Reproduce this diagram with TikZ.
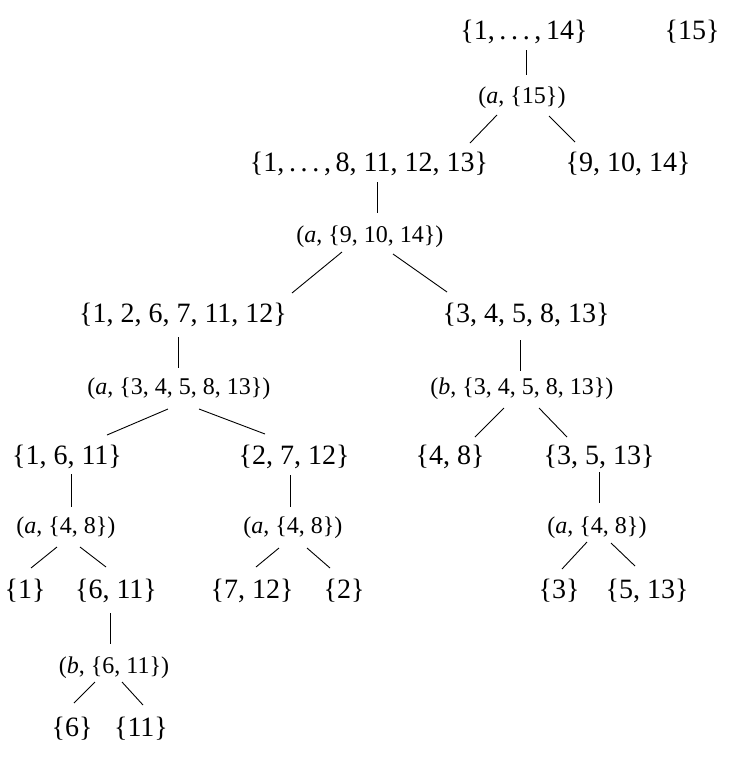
\documentclass[tikz,border=0pt]{standalone}
\usepackage{fontspec}
\setmainfont{Liberation Serif}
\usetikzlibrary{calc}

\begin{document}
\begin{tikzpicture}[
      x=1pt,y=-1pt,
      set/.style={font=\fontsize{28}{30}\selectfont,inner sep=0pt},
      cut/.style={font=\fontsize{24}{27}\selectfont,inner sep=0pt},
      ln/.style={line width=0.9pt,black}
    ]
  \useasboundingbox (0,0) rectangle (734,761);
  % sets and cuts
  \node[set] (s0) at (524,32) {\{1,\,.\,.\,.\,,\,14\}};
  \node[set] (s15) at (692,32) {\{15\}};
  \node[cut] (c0) at (522,98) {(\textit{a}, \{15\})};
  \node[set] (s1) at (369,164) {\{1,\,.\,.\,.\,,\,8, 11, 12, 13\}};
  \node[set] (s2) at (628,164) {\{9, 10, 14\}};
  \node[cut] (c1) at (370,237) {(\textit{a}, \{9, 10, 14\})};
  \node[set] (s3) at (183,315) {\{1, 2, 6, 7, 11, 12\}};
  \node[set] (s4) at (526,315) {\{3, 4, 5, 8, 13\}};
  \node[cut] (c2) at (179,389) {(\textit{a}, \{3, 4, 5, 8, 13\})};
  \node[cut] (c3) at (522,389) {(\textit{b}, \{3, 4, 5, 8, 13\})};
  \node[set] (s5) at (67,457) {\{1, 6, 11\}};
  \node[set] (s6) at (294,457) {\{2, 7, 12\}};
  \node[set] (s7) at (450,457) {\{4, 8\}};
  \node[set] (s8) at (599,457) {\{3, 5, 13\}};
  \node[cut] (c4) at (66,528) {(\textit{a}, \{4, 8\})};
  \node[cut] (c5) at (293,528) {(\textit{a}, \{4, 8\})};
  \node[cut] (c6) at (597,528) {(\textit{a}, \{4, 8\})};
  \node[set] (s9) at (25,591) {\{1\}};
  \node[set] (s10) at (116,591) {\{6, 11\}};
  \node[set] (s11) at (252,591) {\{7, 12\}};
  \node[set] (s12) at (344,591) {\{2\}};
  \node[set] (s13) at (559,591) {\{3\}};
  \node[set] (s14) at (647,591) {\{5, 13\}};
  \node[cut] (c7) at (114,668) {(\textit{b}, \{6, 11\})};
  \node[set] (s16) at (72,729) {\{6\}};
  \node[set] (s17) at (141,729) {\{11\}};
  % tree edges
  \draw[ln] ($(s0)+(2,18)$) -- ($(c0)+(4,-23)$);
  \draw[ln] ($(c0)+(-25,17)$) -- ($(s1)+(101,-21)$);
  \draw[ln] ($(c0)+(27,18)$) -- ($(s2)+(-53,-22)$);
  \draw[ln] ($(s1)+(8,18)$) -- ($(c1)+(7,-24)$);
  \draw[ln] ($(c1)+(-28,15)$) -- ($(s3)+(109,-22)$);
  \draw[ln] ($(c1)+(23,17)$) -- ($(s4)+(-79,-23)$);
  \draw[ln] ($(s3)+(-5,22)$) -- ($(c2)+(-1,-21)$);
  \draw[ln] ($(s4)+(-6,25)$) -- ($(c3)+(-2,-18)$);
  \draw[ln] ($(c2)+(-11,20)$) -- ($(s5)+(40,-22)$);
  \draw[ln] ($(c2)+(20,20)$) -- ($(s6)+(-29,-23)$);
  \draw[ln] ($(c3)+(-18,19)$) -- ($(s7)+(25,-20)$);
  \draw[ln] ($(c3)+(17,19)$) -- ($(s8)+(-32,-20)$);
  \draw[ln] ($(s5)+(4,17)$) -- ($(c4)+(5,-21)$);
  \draw[ln] ($(s6)+(-4,18)$) -- ($(c5)+(-3,-21)$);
  \draw[ln] ($(s8)+(0,15)$) -- ($(c6)+(2,-25)$);
  \draw[ln] ($(c4)+(-9,19)$) -- ($(s9)+(6,-23)$);
  \draw[ln] ($(c4)+(14,19)$) -- ($(s10)+(-10,-24)$);
  \draw[ln] ($(c5)+(-14,20)$) -- ($(s11)+(4,-24)$);
  \draw[ln] ($(c5)+(14,20)$) -- ($(s12)+(-14,-23)$);
  \draw[ln] ($(c6)+(-10,14)$) -- ($(s13)+(3,-22)$);
  \draw[ln] ($(c6)+(14,15)$) -- ($(s14)+(-12,-25)$);
  \draw[ln] ($(s10)+(-6,22)$) -- ($(c7)+(-4,-24)$);
  \draw[ln] ($(c7)+(-19,14)$) -- ($(s16)+(2,-26)$);
  \draw[ln] ($(c7)+(8,14)$) -- ($(s17)+(2,-24)$);
\end{tikzpicture}
\end{document}
